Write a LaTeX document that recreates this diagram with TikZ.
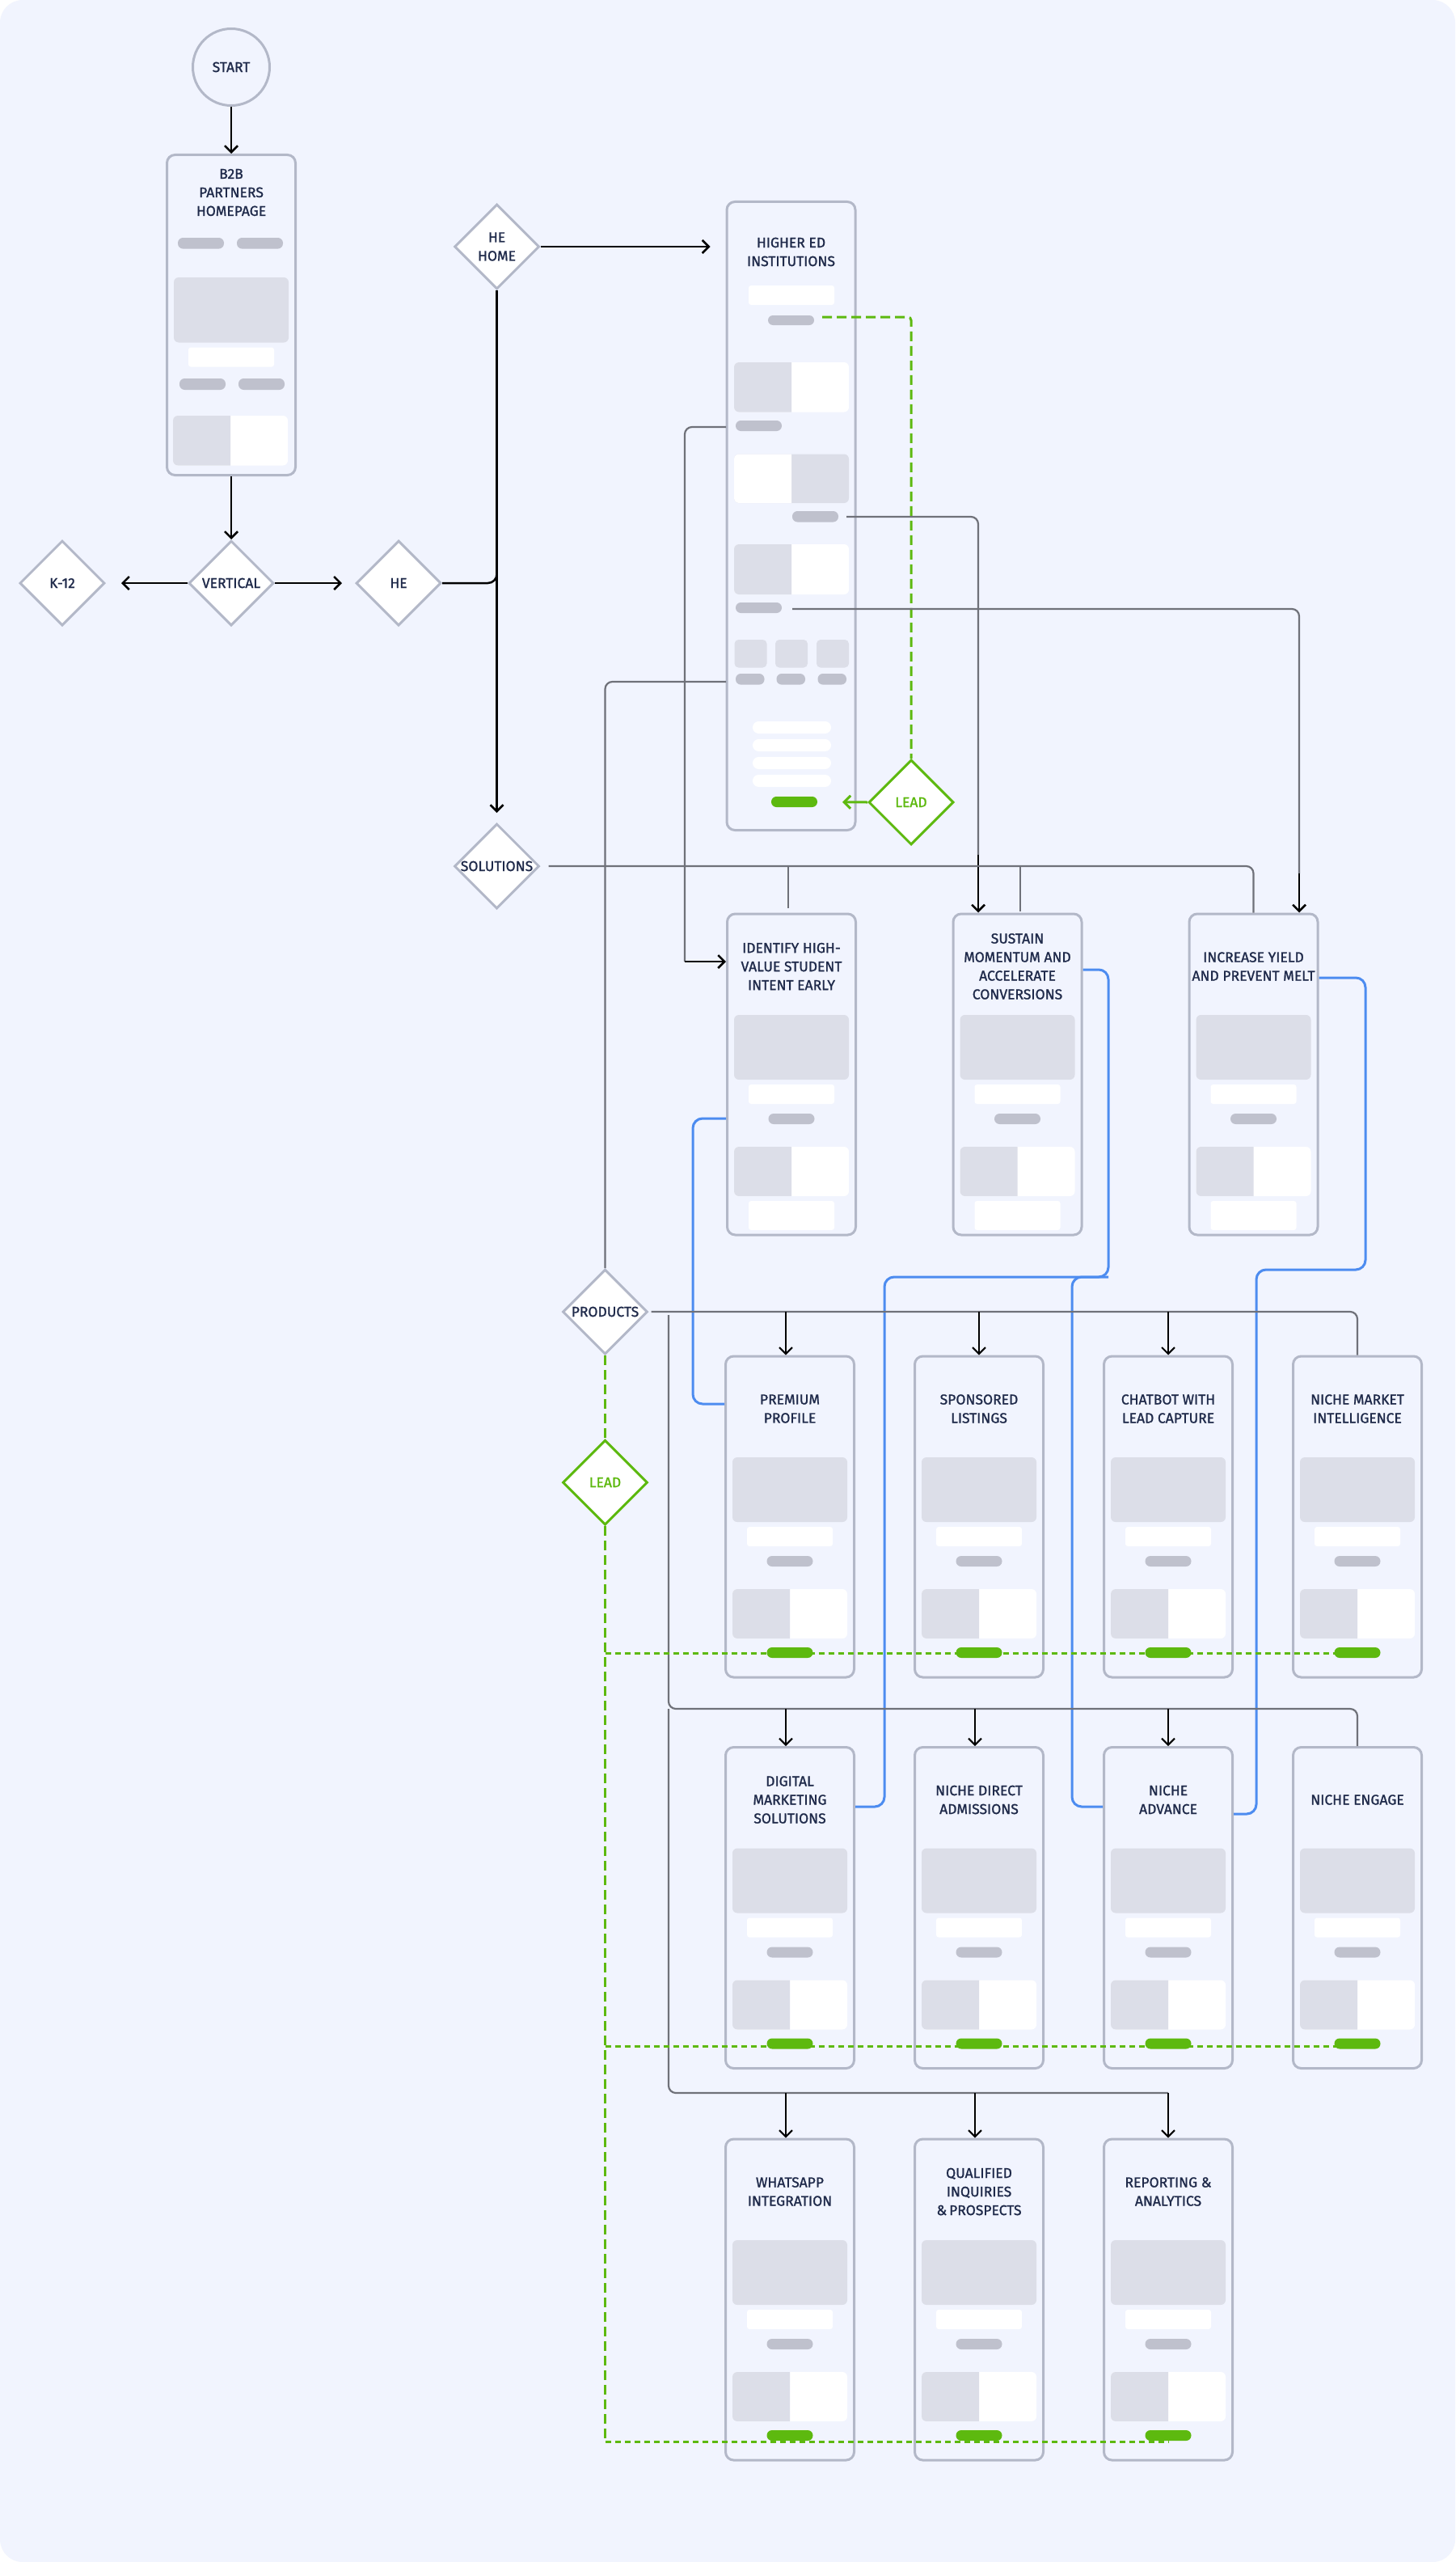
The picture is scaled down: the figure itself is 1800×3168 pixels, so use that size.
\documentclass[tikz,border=0pt]{standalone}
\usepackage{fontspec}
\setmainfont{Fira Sans}[FakeBold=1.2]
\usetikzlibrary{arrows.meta,shapes.geometric,calc}
\definecolor{bgc}{HTML}{F1F4FE}
\definecolor{bordc}{HTML}{B3B8C8}
\definecolor{lg}{HTML}{DCDEE8}
\definecolor{pg}{HTML}{BFC1CD}
\definecolor{leadg}{HTML}{5DB90F}
\definecolor{blueln}{HTML}{4D8CF0}
\definecolor{cgray}{HTML}{6F7179}
\definecolor{navy}{HTML}{1F2A4A}

\newcommand{\cardbody}[2]{%
 \fill[lg, rounded corners=6pt] ({#1-71},{#2+125}) rectangle ({#1+71},{#2+205});
 \fill[white, rounded corners=3pt] ({#1-53},{#2+211}) rectangle ({#1+53},{#2+235});
 \fill[pg, rounded corners=6.4pt] ({#1-28.5},{#2+247}) rectangle ({#1+28.5},{#2+260});
 \fill[white, rounded corners=6pt] ({#1-71},{#2+288}) rectangle ({#1+71},{#2+349});
 \begin{scope}
  \clip ({#1-75},{#2+280}) rectangle (#1,{#2+355});
  \fill[lg, rounded corners=6pt] ({#1-71},{#2+288}) rectangle ({#1+71},{#2+349});
 \end{scope}
}
\newcommand{\solcard}[4]{%
 \node[screen] (#1) at (#2,{#3+198.5}) {};
 \node[ttl] (#1-t) at (#2,{#3+65}) {#4};
 \cardbody{#2}{#3}
 \fill[white, rounded corners=3pt] ({#2-53},{#3+355}) rectangle ({#2+53},{#3+391});
}
\newcommand{\prodcard}[4]{%
 \node[screen] (#1) at (#2,{#3+198.5}) {};
 \node[ttl] (#1-t) at (#2,{#3+65}) {#4};
 \cardbody{#2}{#3}
 \fill[leadg, rounded corners=6.4pt] ({#2-28.5},{#3+360}) rectangle ({#2+28.5},{#3+373});
 \coordinate (#1-g) at (#2,{#3+366.5});
}

\begin{document}
\begin{tikzpicture}[x=1pt,y=-1pt,
 screen/.style={draw=bordc, line width=3pt, rounded corners=10pt, minimum width=159pt, minimum height=397pt, inner sep=0pt},
 ttl/.style={font=\fontsize{17.5}{23}\selectfont, text=navy, align=center, inner sep=0pt},
 dia/.style={shape=diamond, draw=bordc, fill=white, line width=3pt, minimum width=105pt, minimum height=105pt, inner sep=0pt},
 gdia/.style={dia, draw=leadg},
 dlbl/.style={font=\fontsize{17.5}{23}\selectfont, text=navy, align=center, inner sep=0pt},
 conn/.style={draw=cgray, line width=2.2pt, rounded corners=9pt},
 arr/.style={draw=black, line width=2.5pt, -{Straight Barb[length=8pt,width=16pt]}},
 arrthin/.style={arr, line width=2pt},
 blu/.style={draw=blueln, line width=3pt, rounded corners=12pt},
 gdash/.style={draw=leadg, line width=3pt, dash pattern=on 12pt off 6pt},
 gdot/.style={draw=leadg, line width=3pt, dash pattern=on 7pt off 5pt},
]
\useasboundingbox (0,0) rectangle (1800,3168);
\fill[white] (0,0) rectangle (1800,3168);
\fill[bgc, rounded corners=28pt] (0,0) rectangle (1800,3168);

% ---- start and homepage
\node[circle, draw=bordc, line width=3pt, minimum size=95pt, inner sep=0pt, font=\fontsize{17.5}{23}\selectfont, text=navy] (start) at (286,83) {START};
\node[screen, minimum height=396pt] (b2b) at (286,389.5) {};
\node[ttl] (b2bt) at (286,238) {B2B\\PARTNERS\\HOMEPAGE};
\fill[pg, rounded corners=6.4pt] (220,294) rectangle (277,307.6);
\fill[pg, rounded corners=6.4pt] (293,294) rectangle (350,307.6);
\fill[lg, rounded corners=6pt] (215,343) rectangle (357,423.5);
\fill[white, rounded corners=3pt] (233,429.6) rectangle (339,453.6);
\fill[pg, rounded corners=6.4pt] (222,468) rectangle (279,482);
\fill[pg, rounded corners=6.4pt] (295,468) rectangle (352,482);
\fill[white, rounded corners=6pt] (214,514) rectangle (356,575.5);
\begin{scope}\clip (210,510) rectangle (285,580);
\fill[lg, rounded corners=6pt] (214,514) rectangle (356,575.5);\end{scope}

% ---- diamonds
\node[dia, label={[dlbl]center:VERTICAL}] (vert) at (286,721) {};
\node[dia, label={[dlbl]center:K-12}] (k12) at (77,721) {};
\node[dia, label={[dlbl]center:HE}] (he) at (493,721) {};
\node[dia, label={[dlbl]center:HE\\HOME}] (hehome) at (614.5,305) {};
\node[dia, label={[dlbl]center:SOLUTIONS}] (sol) at (614.5,1071) {};
\node[dia, label={[dlbl]center:PRODUCTS}] (prod) at (748.5,1622) {};
\node[gdia, label={[dlbl, text=leadg]center:LEAD}] (lead1) at (1127,992) {};
\node[gdia, label={[dlbl, text=leadg]center:LEAD}] (lead2) at (748.5,1833) {};

% ---- higher ed page
\node[screen, minimum height=777pt] (hied) at (978.5,638) {};
\node[ttl] (hiedt) at (978.5,311.5) {HIGHER ED\\INSTITUTIONS};
\fill[white, rounded corners=3pt] (926,353) rectangle (1032,377);
\fill[pg, rounded corners=6pt] (950,390) rectangle (1007,402);
\fill[white, rounded corners=6pt] (908,448) rectangle (1050,509.5);
\begin{scope}\clip (900,440) rectangle (979,515);
\fill[lg, rounded corners=6pt] (908,448) rectangle (1050,509.5);\end{scope}
\fill[pg, rounded corners=6.4pt] (910,520) rectangle (967,533);
\fill[lg, rounded corners=6pt] (908,561.5) rectangle (1050,622);
\begin{scope}\clip (900,555) rectangle (979,630);
\fill[white, rounded corners=6pt] (908,561.5) rectangle (1050,622);\end{scope}
\fill[pg, rounded corners=6.4pt] (980,632) rectangle (1037,645.5);
\fill[white, rounded corners=6pt] (908,673) rectangle (1050,735);
\begin{scope}\clip (900,665) rectangle (979,740);
\fill[lg, rounded corners=6pt] (908,673) rectangle (1050,735);\end{scope}
\fill[pg, rounded corners=6.4pt] (910,745) rectangle (967,758);
\foreach \xx in {908.5,959,1010}{
 \fill[lg, rounded corners=5pt] (\xx,791) rectangle ({\xx+40},825.5);
 \fill[pg, rounded corners=6.4pt] ({\xx+1.5},833) rectangle ({\xx+37},846.6);}
\foreach \yy in {892,914,936,958}{
 \fill[white, rounded corners=7.4pt] (931,\yy) rectangle (1028,{\yy+15});}
\fill[leadg, rounded corners=6.4pt] (954,985) rectangle (1011,998);
\coordinate (hgp) at (1011,991.5);
\coordinate (hp0) at (1017,392);

% ---- solution pages
\solcard{idf}{979}{1130}{IDENTIFY HIGH-\\VALUE STUDENT\\INTENT EARLY}
\solcard{sus}{1258.5}{1130}{SUSTAIN\\MOMENTUM AND\\ACCELERATE\\CONVERSIONS}
\solcard{inc}{1550.5}{1130}{INCREASE YIELD\\AND PREVENT MELT}

% ---- product pages
\prodcard{prem}{977}{1677}{PREMIUM\\PROFILE}
\prodcard{spon}{1211}{1677}{SPONSORED\\LISTINGS}
\prodcard{chat}{1445}{1677}{CHATBOT WITH\\LEAD CAPTURE}
\prodcard{nmi}{1679}{1677}{NICHE MARKET\\INTELLIGENCE}
\prodcard{dig}{977}{2160.5}{DIGITAL\\MARKETING\\SOLUTIONS}
\prodcard{ndir}{1211}{2160.5}{NICHE DIRECT\\ADMISSIONS}
\prodcard{nadv}{1445}{2160.5}{NICHE\\ADVANCE}
\prodcard{neng}{1679}{2160.5}{NICHE ENGAGE}
\prodcard{wa}{977}{2645}{WHATSAPP\\INTEGRATION}
\prodcard{qual}{1211}{2645}{QUALIFIED\\INQUIRIES\\\&\,PROSPECTS}
\prodcard{rep}{1445}{2645}{REPORTING \&\\ANALYTICS}

% ---- top flow connectors
\draw[arr] (start) -- (b2b);
\draw[arr] (b2b) -- (vert);
\draw[arr, shorten >=19pt] (vert) -- (k12);
\draw[arr, shorten >=16pt] (vert) -- (he);
\draw[black, line width=2.5pt, rounded corners=11pt] (he.east) -| (hehome.south);
\draw[arr, shorten >=12pt] (hehome) -- (sol);
\draw[arr, shorten >=19pt] (hehome.east) -- (hehome.east -| hied.west);

% ---- lead on higher ed page
\draw[gdash, rounded corners=4pt] (hp0) -| (lead1.north);
\draw[draw=leadg, line width=3pt, -{Straight Barb[length=8pt,width=16pt]}, shorten >=31pt] (lead1.west) -- (hgp);

% ---- higher ed to solutions / products
\coordinate (c1s) at (898,528);
\coordinate (c1k) at (847,1189);
\draw[conn] (c1s) -| (c1k);
\draw[arr] (c1k) -- (c1k -| idf.west);
\coordinate (c2s) at (1047,639);
\coordinate (c2k) at (1210,1057);
\draw[conn] (c2s) -| (c2k);
\draw[arr] (c2k) -- (c2k |- sus.north);
\coordinate (c3s) at (980,753);
\coordinate (c3k) at (1607,1080);
\draw[conn] (c3s) -| (c3k);
\draw[arr] (c3k) -- (c3k |- inc.north);
\coordinate (c4s) at (898,843);
\draw[conn] (c4s) -| (prod.north);

% ---- solutions fan-out
\draw[conn, shorten <=10pt] (sol.east) -| (inc.north);
\coordinate (sd1) at (975,1071);
\coordinate (sd2) at (1262,1071);
\draw[conn, shorten >=6pt] (sd1) -- (sd1 |- idf.north);
\draw[conn, shorten >=2pt] (sd2) -- (sd2 |- sus.north);

% ---- blue links
\coordinate (b1a) at (857,1383);
\coordinate (b1b) at (857,1736);
\draw[blu] (b1a -| idf.west) -- (b1a) -- (b1b) -- (b1b -| prem.west);
\coordinate (b2a) at (1371,1199);
\coordinate (b2b) at (1371,1579);
\coordinate (b2c) at (1094,1579);
\coordinate (b2d) at (1094,2234);
\draw[blu] (b2a -| sus.east) -- (b2a) -- (b2b) -- (b2c) -- (b2d) -- (b2d -| dig.east);
\coordinate (b3a) at (1326,1579);
\coordinate (b3b) at (1326,2234);
\draw[blu] (b2b) -- (b3a) -- (b3b) -- (b3b -| nadv.west);
\coordinate (b4a) at (1689,1209);
\coordinate (b4b) at (1689,1570);
\coordinate (b4c) at (1554,1570);
\coordinate (b4d) at (1554,2243);
\draw[blu] (b4a -| inc.east) -- (b4a) -- (b4b) -- (b4c) -- (b4d) -- (b4d -| nadv.east);

% ---- products fan-out
\draw[conn, shorten <=3pt] (prod.east) -| (nmi.north);
\coordinate (pd1) at (972,1622);
\coordinate (pd2) at (1211,1622);
\coordinate (pd3) at (1445,1622);
\draw[arrthin] (pd1) -- (pd1 |- prem.north);
\draw[arrthin] (pd2) -- (pd2 |- spon.north);
\draw[arrthin] (pd3) -- (pd3 |- chat.north);
\coordinate (r2a) at (827,1626);
\coordinate (r2b) at (827,2113);
\coordinate (r3b) at (827,2588);
\draw[conn] (r2a) -- (r2b) -| (neng.north);
\draw[conn] (r2b) -- (r3b) -- (r3b -| rep.north);
\coordinate (q1) at (972,2113);
\coordinate (q2) at (1206,2113);
\coordinate (q3) at (1445,2113);
\draw[arrthin] (q1) -- (q1 |- dig.north);
\draw[arrthin] (q2) -- (q2 |- ndir.north);
\draw[arrthin] (q3) -- (q3 |- nadv.north);
\coordinate (s1) at (972,2588);
\coordinate (s2) at (1206,2588);
\coordinate (s3) at (1445,2588);
\draw[arrthin] (s1) -- (s1 |- wa.north);
\draw[arrthin] (s2) -- (s2 |- qual.north);
\draw[arrthin] (s3) -- (s3 |- rep.north);

% ---- lead on products
\draw[gdash] (prod.south) -- (lead2.north);
\coordinate (gv1) at (748.5,2044.5);
\coordinate (gv2) at (748.5,2530.5);
\coordinate (gv3) at (748.5,3019);
\draw[gdash] (lead2.south) -- (gv3);
\draw[gdot] (gv1) -- (gv1 -| nmi-g);
\draw[gdot] (gv2) -- (gv2 -| neng-g);
\draw[gdot] (gv3) -- (gv3 -| rep-g);
\end{tikzpicture}
\end{document}
